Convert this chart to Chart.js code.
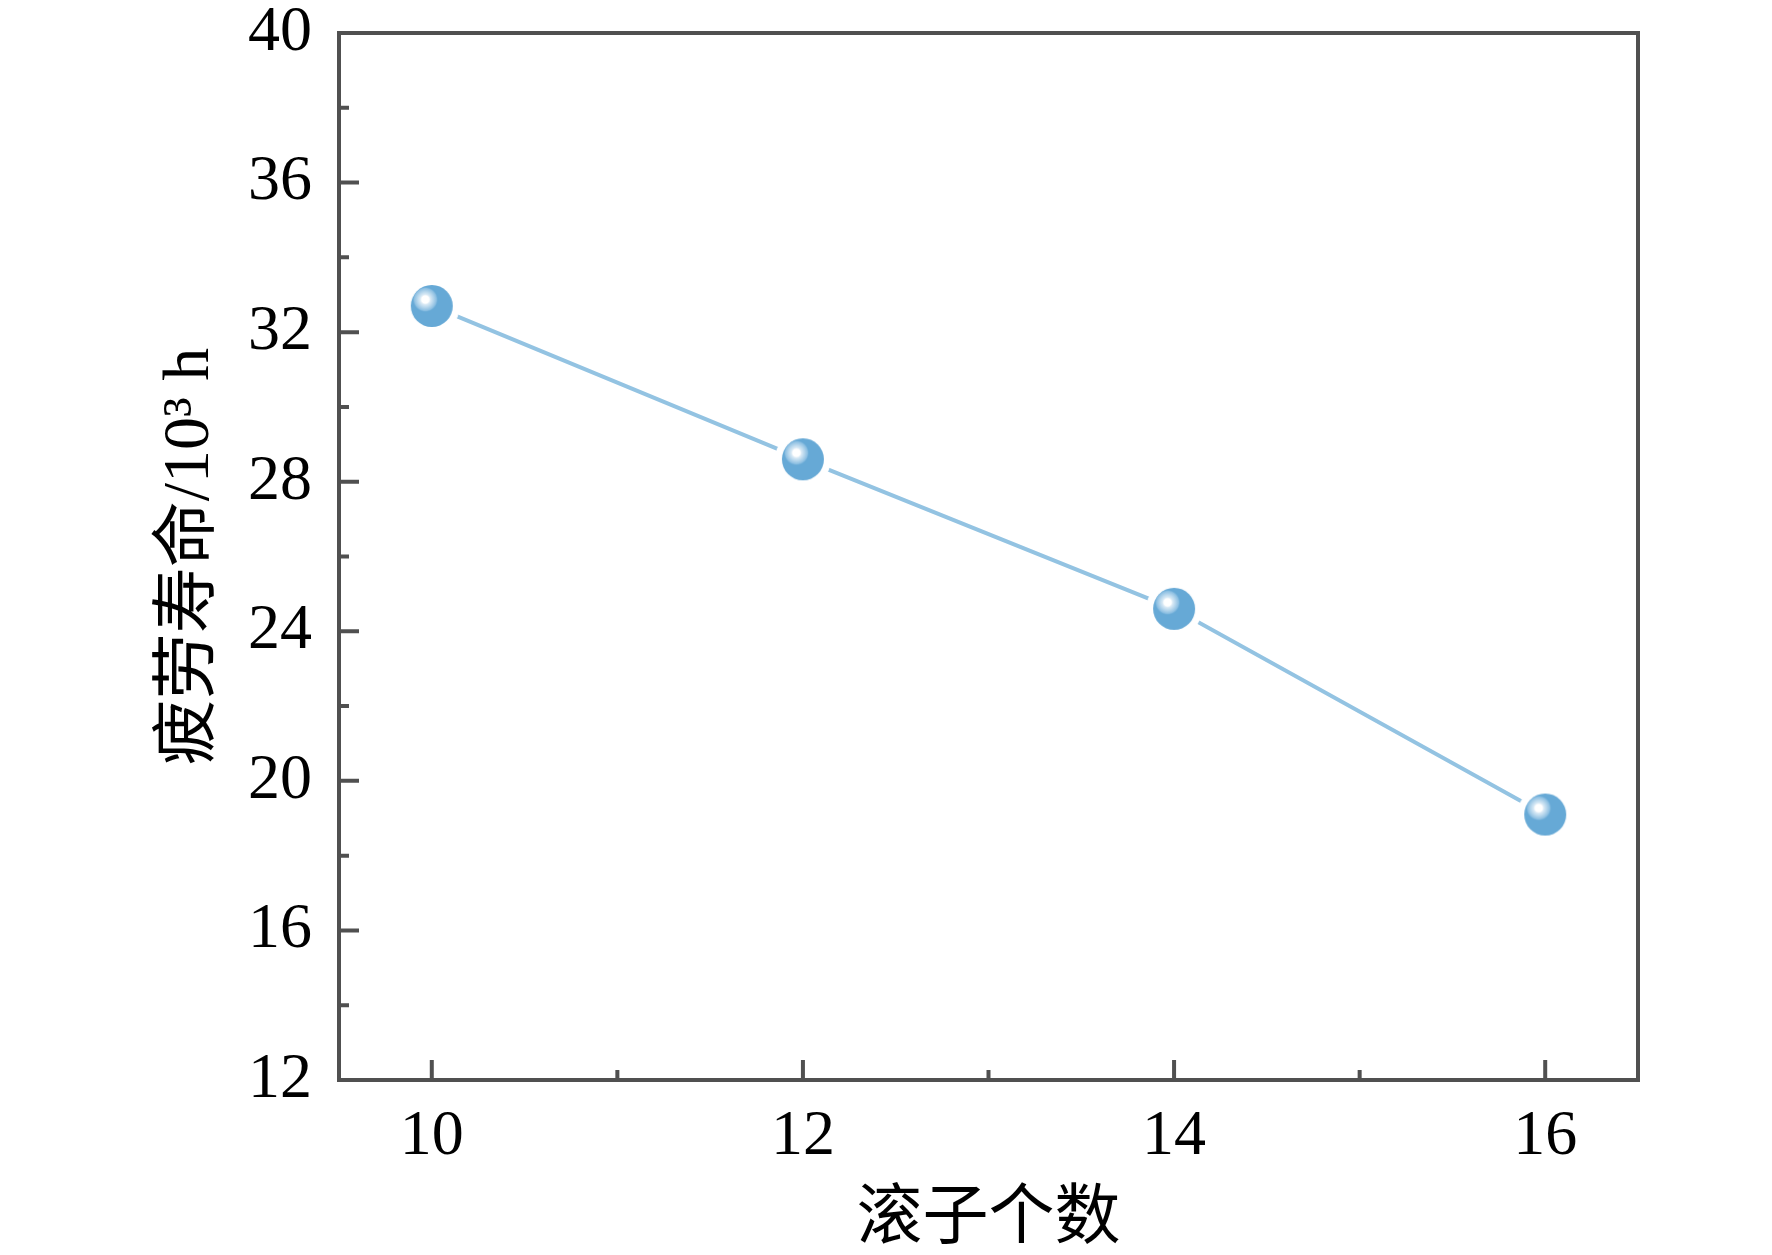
<!DOCTYPE html>
<html>
<head>
<meta charset="utf-8">
<script src="https://cdn.jsdelivr.net/npm/chart.js@4/dist/chart.umd.min.js"></script>
<style>
  html, body { margin: 0; padding: 0; background: #fff; }
  #wrap { width: 1772px; height: 1255px; position: relative; }
</style>
</head>
<body>
<div id="wrap"><canvas id="chart"></canvas></div>
<script>
// data
const rollers = [10, 12, 14, 16]
const fatigueLife = [32.7, 28.6, 24.6, 19.1]

const xTicks = [10, 12, 14, 16]
const xMinorTicks = [11, 13, 15]
const yTicks = [12, 16, 20, 24, 28, 32, 36, 40]
const yMinorTicks = [14, 18, 22, 26, 30, 34, 38]

const frameColor = "#505050"
const serif = '"Liberation Serif", "Noto Sans CJK SC", serif'

// glossy ball marker, with a white ring so the line stops short of it
function makeBall() {
  const r = 21, ring = 7, size = (r + ring) * 2
  const c = document.createElement("canvas")
  c.width = size
  c.height = size
  const g = c.getContext("2d")
  const m = size / 2

  g.fillStyle = "#ffffff"
  g.beginPath()
  g.arc(m, m, r + ring, 0, Math.PI * 2)
  g.fill()

  g.fillStyle = "#66a9d6"
  g.beginPath()
  g.arc(m, m, r, 0, Math.PI * 2)
  g.fill()

  g.save()
  g.beginPath()
  g.arc(m, m, r, 0, Math.PI * 2)
  g.clip()
  const hx = m - 6.5, hy = m - 6.5
  const grad = g.createRadialGradient(hx, hy, 0, hx, hy, 13)
  grad.addColorStop(0, "#ffffff")
  grad.addColorStop(0.28, "#ffffff")
  grad.addColorStop(0.4, "#d8e9f5")
  grad.addColorStop(0.62, "#b4d5ec")
  grad.addColorStop(0.85, "#8cbfe2")
  grad.addColorStop(1, "rgba(102,169,214,0)")
  g.fillStyle = grad
  g.beginPath()
  g.arc(hx, hy, 13, 0, Math.PI * 2)
  g.fill()
  g.restore()
  return c
}

// closed frame with inward ticks, placed through the chart's scales
const framePlugin = {
  id: "frame",
  afterDraw(chart) {
    const { ctx, chartArea: a, scales } = chart
    ctx.save()
    ctx.strokeStyle = frameColor
    ctx.lineWidth = 4
    ctx.lineCap = "butt"

    ctx.beginPath()
    xTicks.forEach(v => {
      const x = scales.x.getPixelForValue(v)
      ctx.moveTo(x, a.bottom); ctx.lineTo(x, a.bottom - 20)
    })
    xMinorTicks.forEach(v => {
      const x = scales.x.getPixelForValue(v)
      ctx.moveTo(x, a.bottom); ctx.lineTo(x, a.bottom - 10)
    })
    yTicks.forEach(v => {
      const y = scales.y.getPixelForValue(v)
      ctx.moveTo(a.left, y); ctx.lineTo(a.left + 20, y)
    })
    yMinorTicks.forEach(v => {
      const y = scales.y.getPixelForValue(v)
      ctx.moveTo(a.left, y); ctx.lineTo(a.left + 10, y)
    })
    ctx.stroke()

    ctx.strokeRect(a.left, a.top, a.right - a.left, a.bottom - a.top)
    ctx.restore()
  }
}

new Chart(document.getElementById("chart"), {
  type: "line",
  data: {
    datasets: [
      {
        data: rollers.map((x, i) => ({ x: x, y: fatigueLife[i] })),
        borderColor: "#93c3e2",
        borderWidth: 4,
        pointStyle: makeBall(),
        pointRadius: 21,
        pointHoverRadius: 21,
        tension: 0,
        clip: false
      }
    ]
  },
  options: {
    responsive: true,
    maintainAspectRatio: false,
    animation: false,
    devicePixelRatio: 1,
    layout: {
      padding: { top: 33, right: 134, left: 0, bottom: 0 }
    },
    plugins: {
      legend: { display: false },
      tooltip: { enabled: false }
    },
    scales: {
      x: {
        type: "linear",
        min: 9.5,
        max: 16.5,
        afterBuildTicks: s => { s.ticks = xTicks.map(v => ({ value: v })) },
        afterFit: s => { s.height = 175; s.paddingLeft = 0; s.paddingRight = 0 },
        grid: { display: false, drawTicks: false },
        border: { display: false },
        ticks: {
          padding: 25,
          color: "#000",
          maxRotation: 0,
          font: { family: serif, size: 64, lineHeight: 1 }
        },
        title: {
          display: true,
          text: "滚子个数",
          color: "#000",
          padding: { top: 0, bottom: 1 },
          font: { family: serif, size: 66, lineHeight: 1 }
        }
      },
      y: {
        min: 12,
        max: 40,
        afterBuildTicks: s => { s.ticks = yTicks.map(v => ({ value: v })) },
        afterFit: s => { s.width = 339; s.paddingTop = 0; s.paddingBottom = 0 },
        grid: { display: false, drawTicks: false },
        border: { display: false },
        ticks: {
          padding: 27,
          color: "#000",
          font: { family: serif, size: 64, lineHeight: 1 }
        },
        title: {
          display: true,
          text: "疲劳寿命/10³ h",
          color: "#000",
          padding: { top: 158, bottom: 0 },
          font: { family: serif, size: 66, lineHeight: 1 }
        }
      }
    }
  },
  plugins: [framePlugin]
})
</script>
</body>
</html>
